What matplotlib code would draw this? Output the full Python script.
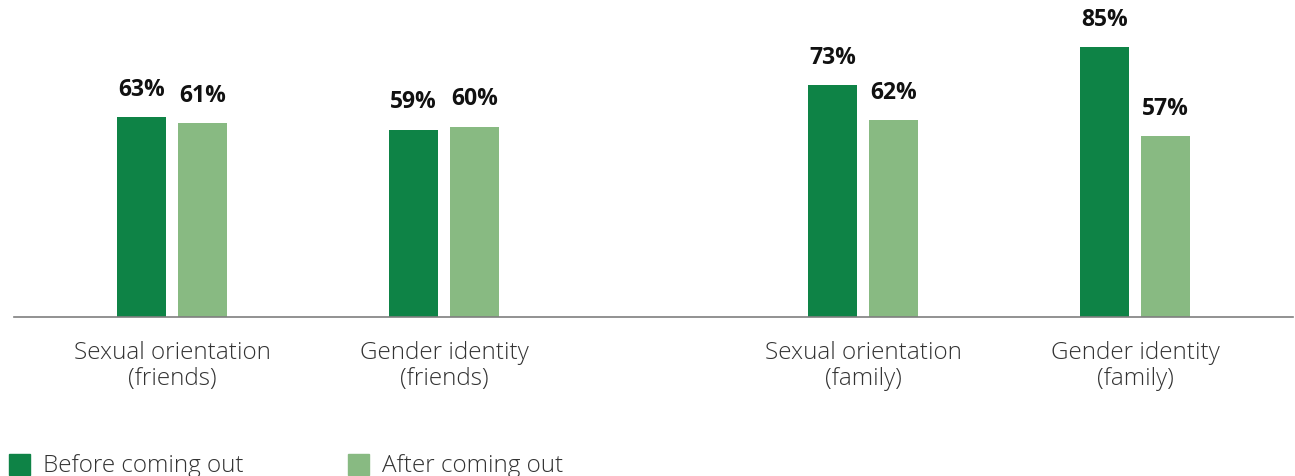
import matplotlib.pyplot as plt
from matplotlib.patches import Patch

plt.rcParams['font.family'] = ['Open Sans', 'DejaVu Sans']

categories = ['Sexual orientation\n(friends)', 'Gender identity\n(friends)',
              'Sexual orientation\n(family)', 'Gender identity\n(family)']
before = [63, 59, 73, 85]
after = [61, 60, 62, 57]
series_names = ['Before coming out', 'After coming out']

# group centres, with a wider gap between friends and family
positions = [0, 1, 2.54, 3.54]
dark = '#0e8346'
light = '#88ba82'
width = 0.18
offset = 0.112

fig = plt.figure(figsize=(12.95, 4.76), dpi=100)
ax = fig.add_axes([14 / 1295, 0.334, 1279 / 1295, 0.667])

xb = [p - offset for p in positions]
xa = [p + offset for p in positions]
ax.bar(xb, before, width, color=dark)
ax.bar(xa, after, width, color=light)

for xs, vals in [(xb, before), (xa, after)]:
    for x, v in zip(xs, vals):
        ax.annotate(f'{v}%', (x, v), xytext=(0, 11), textcoords='offset points',
                    ha='center', va='bottom', fontsize=16.5, fontweight='bold',
                    color='#111111')

ax.set_xlim(-0.581, 4.121)
ax.set_ylim(0, 100)
ax.set_xticks(positions)
ax.set_xticklabels(categories, fontsize=17.5, fontweight='light', color='#333333',
                   linespacing=1.15)
ax.tick_params(axis='x', length=0, pad=17)
ax.set_yticks([])
for s in ['top', 'left', 'right']:
    ax.spines[s].set_visible(False)
ax.spines['bottom'].set_color('#7f7f7f')
ax.spines['bottom'].set_linewidth(1.2)

handles = [Patch(color=dark), Patch(color=light)]
leg = fig.legend(handles, series_names, loc='lower left', bbox_to_anchor=(0.007, -0.005),
                 ncol=2, frameon=False, fontsize=17.5, handlelength=0.85, handleheight=0.95,
                 handletextpad=0.55, columnspacing=4.3, borderaxespad=0, borderpad=0.0,
                 labelcolor='#333333')
for t in leg.get_texts():
    t.set_fontweight('light')

fig.savefig('out.png', dpi=100)
